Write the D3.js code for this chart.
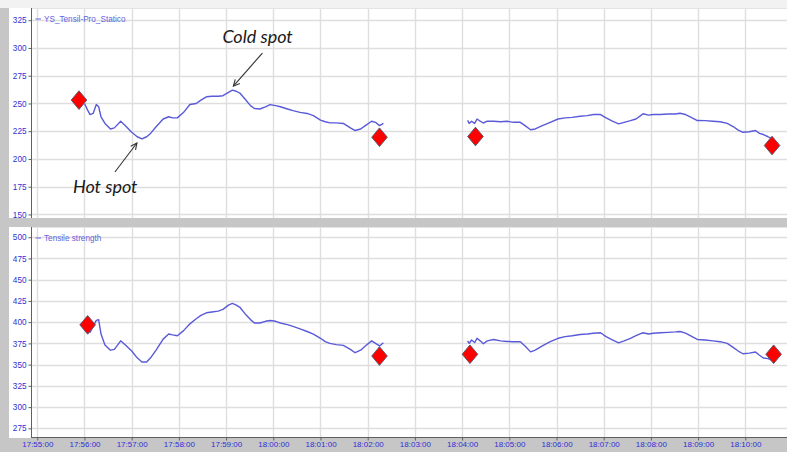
<!DOCTYPE html>
<html>
<head>
<meta charset="utf-8">
<script src="https://cdn.jsdelivr.net/npm/d3@7"></script>
<style>
  body { margin: 0; background: #ffffff; }
  svg { display: block; font-family: "Liberation Sans", Arial, sans-serif; }
</style>
</head>
<body>
<svg id="chart" width="787" height="452"></svg>
<script>
// ---- data -------------------------------------------------------------
// sample times of the first run (17:56 – 18:02)
const run1Times = ["17:56:00","17:56:04","17:56:07","17:56:11","17:56:15","17:56:18","17:56:21","17:56:26","17:56:33","17:56:38",
  "17:56:46","17:56:52","17:57:00","17:57:07","17:57:13","17:57:19","17:57:24","17:57:31","17:57:40","17:57:47",
  "17:57:52","17:57:58","17:58:06","17:58:14","17:58:22","17:58:28","17:58:35","17:58:42","17:58:50","17:58:56",
  "17:59:03","17:59:08","17:59:13","17:59:18","17:59:24","17:59:31","17:59:36","17:59:43","17:59:50","17:59:56",
  "18:00:03","18:00:09","18:00:18","18:00:25","18:00:34","18:00:43","18:00:51","18:01:00","18:01:06","18:01:12",
  "18:01:20","18:01:29","18:01:38","18:01:44","18:01:51","18:01:57","18:02:05","18:02:10","18:02:15","18:02:20"];
// sample times of the second run (18:04 – 18:10)
const run2Times = ["18:04:07","18:04:09","18:04:12","18:04:16","18:04:19","18:04:23","18:04:27","18:04:32","18:04:40","18:04:49",
  "18:04:57","18:05:05","18:05:14","18:05:20","18:05:27","18:05:33","18:05:42","18:05:52","18:06:02","18:06:11",
  "18:06:20","18:06:30","18:06:39","18:06:47","18:06:56","18:07:03","18:07:11","18:07:19","18:07:26","18:07:34",
  "18:07:41","18:07:47","18:07:50","18:07:57","18:08:03","18:08:12","18:08:22","18:08:31","18:08:37","18:08:44",
  "18:08:50","18:08:59","18:09:09","18:09:19","18:09:28","18:09:37","18:09:45","18:09:51","18:09:57","18:10:05",
  "18:10:13","18:10:18","18:10:23","18:10:29","18:10:34"];

// YS_Tensil-Pro_Statico
const ysRun1 = [250,244,240,241,249,247,238,232,227,228,
  234,230,224,220,218,220,223,229,236,238,
  237,237,242,249,250,253,256,256.5,256.5,257,
  260,262,261,259,254,248,245.5,245,247,249,
  248,247,245,243.5,242,241,239,235,233.5,232.5,
  232.5,232,228,225.6,227,230,234,233,230,232];
const ysRun2 = [234.7,232,234,232,236,234,232.4,234,234,233.5,
  234,233,233,230,226.3,227,230,233,236,237,
  237.5,238.5,239,240,240,237,234,231.6,233,234.5,
  236,239,240.7,239.5,240,240,240.5,240.5,241.2,240,
  238,234.6,234.5,234,233.5,232,229,226,224,224.5,
  225.6,223,222,220,218];

// Tensile strength
const tsRun1 = [null,391,388,395,402,403,386,373,367,368,
  378,373,366,358,353,353,358,367,380,386,
  385,384,390,398,404,408,411,412,413,415,
  420,422,420,417,410,403,399,399,401,402,
  401,399,397,395,392,389,386,381,377,375,
  373.5,372.6,368,364,367,372,378,375,372,375.7];
const tsRun2 = [378,375,379,376,381,378,374.6,378,379.6,378,
  377.3,377,377,372,365,367,372,377,381,383,
  384,385.5,386,387,387.5,383,379,375.7,378,381,
  384,386.5,387.5,386,387,387.5,388,388.5,389,387,
  384,379.6,379,378,377,375,370,366,362.8,363.5,
  364.8,361,357.8,357,355];

// lab results (diamond markers)
const ysLabTimes = ["17:55:53","18:02:15","18:04:17","18:10:34"];
const ysLabValues = [253,219.6,220.2,212.1];
const tsLabTimes = ["17:56:04","18:02:15","18:04:10","18:10:36"];
const tsLabValues = [396.8,360.1,362.2,362.2];

// axes
const timeRange = ["17:54:52","18:10:53"];
const ysTicks = [150,175,200,225,250,275,300,325];
const tsTicks = [275,300,325,350,375,400,425,450,475,500];
const ysDomain = [146.8,336];
const tsDomain = [264.8,512];

const seriesNames = ["YS_Tensil-Pro_Statico","Tensile strength"];
const notes = [
  {text:"Cold spot", time:"17:59:08", value:262},
  {text:"Hot spot",  time:"17:57:13", value:218}
];

// ---- drawing ----------------------------------------------------------
const parse = d3.timeParse("%H:%M:%S");
const svg = d3.select("#chart");
const W = 787, H = 452;

const bg = "#c6c6c6", grid = "#dedede", axisCol = "#606060";
const tickCol = "#2f2fd6", lineCol = "#5a5ad9", legendCol = "#6464de";

const x = d3.scaleTime().domain(timeRange.map(parse)).range([31, W]);

const panels = [
  {top: 8, bottom: 218, domain: ysDomain, ticks: ysTicks, runs: [ysRun1, ysRun2],
   labT: ysLabTimes, labV: ysLabValues, name: seriesNames[0], xAxis: false},
  {top: 227, bottom: 437, domain: tsDomain, ticks: tsTicks, runs: [tsRun1, tsRun2],
   labT: tsLabTimes, labV: tsLabValues, name: seriesNames[1], xAxis: true}
];

// frame
svg.append("rect").attr("width", W).attr("height", H).attr("fill", bg);
svg.append("rect").attr("x", 0).attr("y", 0).attr("width", W).attr("height", 8).attr("fill", "#f2f2f2");

const minuteTicks = x.ticks(d3.timeMinute.every(1));

panels.forEach(p => {
  const y = d3.scaleLinear().domain(p.domain).range([p.bottom, p.top]);
  p.y = y;
  const g = svg.append("g");
  g.append("rect").attr("x", 9).attr("y", p.top).attr("width", W - 9)
    .attr("height", p.bottom - p.top + (p.xAxis ? 1 : 0)).attr("fill", "#ffffff");

  // grid
  g.append("g").selectAll("line").data(minuteTicks).join("line")
    .attr("x1", d => Math.round(x(d)) + 0.5).attr("x2", d => Math.round(x(d)) + 0.5)
    .attr("y1", p.top).attr("y2", p.bottom)
    .attr("stroke", grid).attr("stroke-width", 1.4);
  g.append("g").selectAll("line").data(p.ticks).join("line")
    .attr("x1", 31).attr("x2", W)
    .attr("y1", d => Math.round(y(d)) + 0.5).attr("y2", d => Math.round(y(d)) + 0.5)
    .attr("stroke", grid).attr("stroke-width", 1.4);
  g.append("line").attr("x1", 31).attr("x2", W).attr("y1", p.top + 0.5).attr("y2", p.top + 0.5)
    .attr("stroke", "#e4e4e4");

  // y axis
  const ya = g.append("g").attr("transform", "translate(31.5,0)")
    .call(d3.axisLeft(y).tickValues(p.ticks).tickSize(3).tickPadding(2).tickSizeOuter(0));
  ya.select(".domain").attr("stroke", axisCol).attr("d", `M0,${p.top}V${p.bottom}`);
  ya.selectAll(".tick line").attr("stroke", axisCol);
  ya.selectAll(".tick text").attr("fill", tickCol).attr("font-size", 8.2)
    .attr("font-family", "'Liberation Sans', Arial, sans-serif");

  // series
  const line = d3.line().defined(d => d.v != null)
    .x(d => x(d.t)).y(d => y(d.v));
  [run1Times, run2Times].forEach((times, i) => {
    const pts = times.map((t, j) => ({t: parse(t), v: p.runs[i][j]}));
    g.append("path").datum(pts).attr("d", line)
      .attr("fill", "none").attr("stroke", lineCol).attr("stroke-width", 1.4)
      .attr("stroke-linejoin", "round");
  });

  // lab markers
  const dia = d => {
    const cx = x(parse(d.t)), cy = y(d.v);
    return `M${cx},${cy - 9.3}L${cx + 7.8},${cy}L${cx},${cy + 9.3}L${cx - 7.8},${cy}Z`;
  };
  g.append("g").selectAll("path").data(p.labT.map((t, i) => ({t, v: p.labV[i]}))).join("path")
    .attr("d", dia).attr("fill", "#ff0000").attr("stroke", "#5a5a6e").attr("stroke-width", 1);

  // legend
  g.append("line").attr("x1", 35.5).attr("x2", 41).attr("y1", p.top + 11).attr("y2", p.top + 11)
    .attr("stroke", legendCol).attr("stroke-width", 1);
  g.append("text").attr("x", 44).attr("y", p.top + 14).attr("font-size", 8.2)
    .attr("fill", legendCol).text(p.name);

  if (p.xAxis) {
    const xa = svg.append("g").attr("transform", `translate(0,${p.bottom + 0.5})`)
      .call(d3.axisBottom(x).tickValues(minuteTicks).tickFormat(d3.timeFormat("%H:%M:%S"))
        .tickSize(3).tickPadding(1).tickSizeOuter(0));
    xa.select(".domain").attr("stroke", axisCol).attr("d", `M31,0H${W}`);
    xa.selectAll(".tick line").attr("stroke", axisCol);
    xa.selectAll(".tick text").attr("fill", tickCol).attr("font-size", 8)
      .attr("font-family", "'Liberation Sans', Arial, sans-serif");
  }
});

// annotations with open arrowheads
const yTop = panels[0].y;
function arrow(x1, y1, x2, y2) {
  const a = Math.atan2(y2 - y1, x2 - x1), L = 7, s = 0.45;
  const g = svg.append("g").attr("stroke", "#333").attr("stroke-width", 1.1).attr("fill", "none");
  g.append("line").attr("x1", x1).attr("y1", y1).attr("x2", x2).attr("y2", y2);
  g.append("path").attr("d",
    `M${x2 - L * Math.cos(a - s)},${y2 - L * Math.sin(a - s)}L${x2},${y2}L${x2 - L * Math.cos(a + s)},${y2 - L * Math.sin(a + s)}`);
}
const cold = notes[0], hot = notes[1];
const cx = x(parse(cold.time)), cy = yTop(cold.value);
arrow(cx + 30, cy - 37, cx + 1, cy - 4);
svg.append("text").attr("x", cx - 10).attr("y", cy - 47).attr("font-size", 18)
  .attr("font-style", "italic").attr("font-family", "Lato, 'Liberation Sans', sans-serif")
  .attr("fill", "#1a1a1a").text(cold.text);
const hx = x(parse(hot.time)), hy = yTop(hot.value);
arrow(hx - 27, hy + 33, hx - 5, hy + 4);
svg.append("text").attr("x", hx - 69).attr("y", hy + 54).attr("font-size", 18)
  .attr("font-style", "italic").attr("font-family", "Lato, 'Liberation Sans', sans-serif")
  .attr("fill", "#1a1a1a").text(hot.text);
</script>
</body>
</html>
